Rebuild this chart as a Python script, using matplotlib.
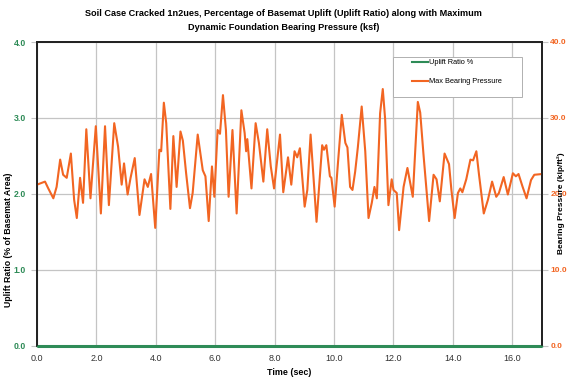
import numpy as np
import matplotlib
matplotlib.use("Agg")
import matplotlib.pyplot as plt
from matplotlib.lines import Line2D
from matplotlib.patches import Rectangle

plt.rcParams['font.family'] = ['Liberation Sans', 'DejaVu Sans']

# time history (sec) and max bearing pressure (kip/ft^2)
time = [
    0.00, 0.27, 0.38, 0.55, 0.66, 0.78, 0.88, 1.00, 1.14, 1.25, 1.34, 1.45,
    1.55, 1.66, 1.80, 1.98, 2.15, 2.29, 2.42, 2.60, 2.73, 2.85, 2.93, 3.05,
    3.15, 3.29, 3.45, 3.62, 3.73, 3.84, 3.98, 4.12, 4.18, 4.27, 4.35, 4.49,
    4.59, 4.70, 4.83, 4.91, 5.02, 5.15, 5.24, 5.41, 5.58, 5.67, 5.78, 5.89,
    5.97, 6.08, 6.16, 6.26, 6.36, 6.45, 6.58, 6.72, 6.88, 6.99, 7.04, 7.08,
    7.22, 7.36, 7.47, 7.62, 7.75, 7.87, 7.98, 8.18, 8.29, 8.45, 8.56, 8.67,
    8.76, 8.85, 9.01, 9.10, 9.21, 9.41, 9.60, 9.66, 9.74, 9.86, 9.91, 10.02,
    10.13, 10.26, 10.38, 10.45, 10.54, 10.62, 10.71, 10.80, 10.93, 11.05,
    11.16, 11.27, 11.36, 11.44, 11.55, 11.64, 11.72, 11.83, 11.94, 12.00,
    12.11, 12.19, 12.34, 12.47, 12.65, 12.82, 12.90, 13.01, 13.15, 13.20,
    13.35, 13.45, 13.56, 13.72, 13.87, 13.95, 14.06, 14.17, 14.25, 14.32,
    14.45, 14.59, 14.68, 14.79, 14.88, 15.04, 15.18, 15.32, 15.46, 15.55,
    15.71, 15.85, 16.02, 16.12, 16.21, 16.34, 16.48, 16.63, 16.74, 17.00,
]
bearing = [
    21.2, 21.6, 20.7, 19.4, 20.9, 24.5, 22.5, 22.1, 25.3, 19.2, 16.8, 22.1,
    18.8, 28.5, 19.4, 28.9, 17.4, 28.9, 18.5, 29.3, 26.2, 21.2, 24.0, 19.9,
    22.1, 24.7, 17.2, 21.9, 20.9, 22.6, 15.5, 25.8, 25.6, 32.0, 29.3, 18.0,
    27.6, 20.9, 28.2, 27.0, 22.7, 18.1, 20.1, 27.8, 23.1, 22.3, 16.4, 23.6,
    19.6, 28.4, 27.9, 33.0, 28.4, 19.6, 28.4, 17.4, 31.0, 28.0, 25.6, 27.2,
    20.7, 29.3, 26.7, 21.6, 28.5, 23.6, 20.7, 27.8, 20.2, 24.8, 21.2, 25.6,
    24.8, 26.0, 18.3, 20.5, 27.8, 16.3, 26.4, 25.8, 26.4, 22.3, 22.1, 18.3,
    24.0, 30.4, 26.7, 26.1, 20.9, 20.5, 22.9, 26.1, 31.5, 25.6,
    16.8, 18.8, 20.9, 19.4, 30.6, 33.8, 29.8, 18.5, 21.9, 20.5,
    20.1, 15.2, 20.9, 23.4, 19.6, 32.1, 30.7, 25.2, 18.8, 16.4,
    22.5, 21.9, 19.0, 25.3, 23.9, 20.5, 16.8, 20.1, 20.7, 20.2,
    21.9, 24.5, 24.4, 25.6, 22.5, 17.4, 19.2, 21.6, 19.6, 20.1,
    22.2, 19.9, 22.7, 22.3, 22.6, 21.0, 19.4, 21.8, 22.5, 22.6,
]
# uplift ratio stays at zero for the whole record
uplift_time = [0.0, 17.0]
uplift = [0.0, 0.0]

green = '#2e8b57'
orange = '#f26522'
grid_c = '#c4c4c4'

fig = plt.figure(figsize=(5.67, 3.79), dpi=100)
ax = fig.add_axes([37 / 567, 1 - 345.5 / 379, 505 / 567, 303.5 / 379])
ax2 = ax.twinx()

ax.plot(uplift_time, uplift, color=green, lw=2.2, solid_capstyle='butt',
        clip_on=False, zorder=5)
ax2.plot(time, bearing, color=orange, lw=1.5)

ax.set_xlim(0, 17)
ax.set_ylim(0, 4)
ax2.set_ylim(0, 40)

ax.set_xticks(np.arange(0, 17, 2))
ax.set_xticklabels([f"{v:.1f}" for v in np.arange(0, 17, 2)])
ax.set_yticks([0, 1, 2, 3, 4])
ax.set_yticklabels([f"{v:.1f}" for v in range(5)])
ax2.set_yticks([0, 10, 20, 30, 40])
ax2.set_yticklabels([f"{v:.1f}" for v in range(0, 41, 10)])

ax.grid(True, color=grid_c, lw=0.9)
ax.set_axisbelow(True)

ax.tick_params(axis='x', length=0, pad=6, labelsize=6.5, labelcolor='#333333')
ax.tick_params(axis='y', length=4, color=grid_c, pad=4, labelsize=6.3,
               labelcolor=green)
ax2.tick_params(axis='y', length=4, color=grid_c, pad=2, labelsize=6.0,
                labelcolor=orange)
for lab in ax.get_yticklabels() + ax2.get_yticklabels():
    lab.set_fontweight('bold')

for a in (ax, ax2):
    for side in ('left', 'right', 'top'):
        a.spines[side].set_color('#222222')
        a.spines[side].set_linewidth(1.3)
    a.spines['bottom'].set_color(green)
    a.spines['bottom'].set_linewidth(1.0)

ax.set_xlabel('Time (sec)', fontsize=6.4, fontweight='bold', labelpad=4)
ax.set_ylabel('Uplift Ratio (% of Basemat Area)', fontsize=6.3,
              fontweight='bold')
ax.yaxis.set_label_coords(-0.0475, 0.35)
ax2.set_ylabel('Bearing Pressure (kip/ft²)', fontsize=6.0,
               fontweight='bold')
ax2.yaxis.set_label_coords(1.030, 0.47)

title_kw = dict(ha='center', va='center', fontsize=6.6, fontweight='bold')
fig.text(0.5, 1 - 13 / 379,
         'Soil Case Cracked 1n2ues, Percentage of Basemat Uplift '
         '(Uplift Ratio) along with Maximum', **title_kw)
fig.text(0.5, 1 - 28 / 379, 'Dynamic Foundation Bearing Pressure (ksf)',
         **title_kw)

# legend box
ax2.add_patch(Rectangle(((393 - 37) / 505, (345.5 - 97) / 303.5),
                        129 / 505, 40 / 303.5, transform=ax2.transAxes,
                        facecolor='white', edgecolor='#b0b0b0', lw=0.7,
                        zorder=10))
handles = [Line2D([], [], color=green, lw=1.5),
           Line2D([], [], color=orange, lw=1.5)]
leg = ax2.legend(handles, ['Uplift Ratio %', 'Max Bearing Pressure'],
                 loc='upper left',
                 bbox_to_anchor=((412 - 37) / 505, (345.5 - 59) / 303.5),
                 frameon=False, fontsize=5.3, handlelength=2.2,
                 handletextpad=0.1, labelspacing=1.6, borderpad=0,
                 borderaxespad=0)
leg.set_zorder(11)

fig.savefig('out.png', dpi=100)
